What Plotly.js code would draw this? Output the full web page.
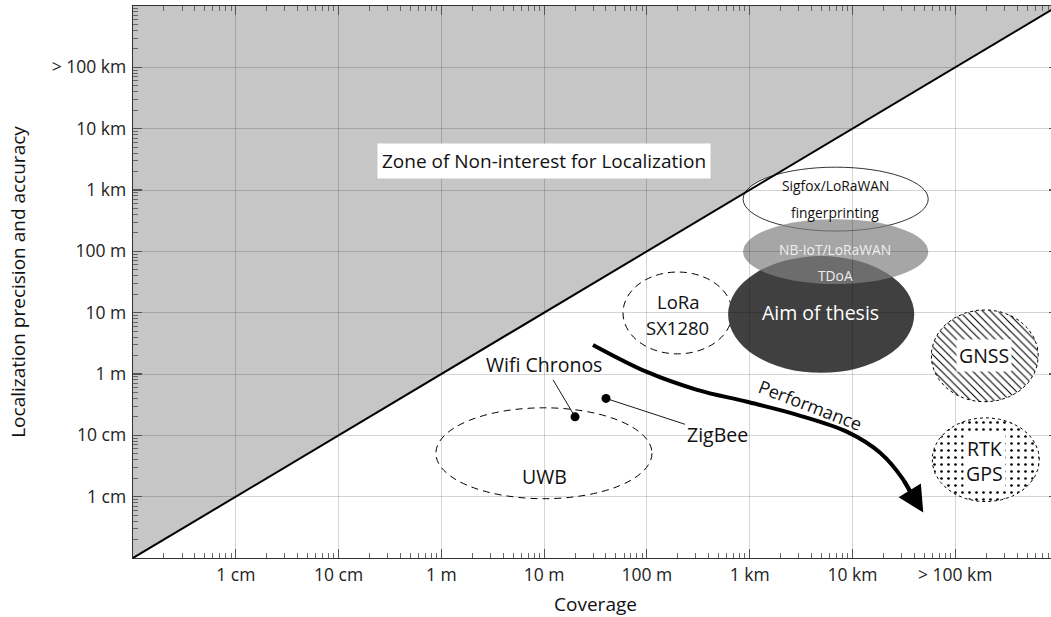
<!DOCTYPE html>
<html><head><meta charset="utf-8">
<script src="https://cdn.plot.ly/plotly-3.0.1.min.js"></script>
<style>html,body{margin:0;padding:0;overflow:hidden;background:#fff}</style>
</head><body><div id="chart" style="width:1060px;height:617px"></div>
<script>
// ---- axes (values in metres) ----
const tickVals = [0.01, 0.1, 1, 10, 100, 1000, 10000, 100000];
const tickText = ['1 cm', '10 cm', '1 m', '10 m', '100 m', '1 km', '10 km', '> 100 km'];
const axisMin = 0.001, axisMax = 1e6;

// ---- zone of non-interest (above the y = x line) ----
const diagX = [0.001, 1e6];
const diagY = [0.001, 1e6];
const zoneX = [0.001, 1e6, 0.001];
const zoneY = [0.001, 1e6, 1e6];

// ---- ellipses (bounding boxes, metres) ----
const ellNames = ['UWB', 'LoRa SX1280', 'Sigfox fingerprinting', 'Aim of thesis', 'NB-IoT TDoA', 'GNSS', 'RTK GPS'];
const ellX0 = [0.885, 58.6, 863, 617, 863, 58500, 59700];
const ellX1 = [112, 675, 54600, 39900, 54600, 643000, 658000];
const ellY0 = [0.00927, 2.13, 214, 1.045, 29.3, 0.352, 0.0083];
const ellY1 = [0.281, 46, 2355, 83.8, 335, 11.1, 0.193];

// ---- single technologies (points) ----
const ptNames = ['Wifi Chronos', 'ZigBee'];
const ptX = [20, 40];
const ptY = [0.2, 0.4];
const ptLabelX = [10, 482];
const ptLabelY = [1.41, 0.102];

// ---- performance arrow ----
const perfX = [29.9, 100, 308, 944, 2900, 8890, 18600, 31200, 38200];
const perfY = [2.98, 1.08, 0.552, 0.352, 0.216, 0.114, 0.052, 0.0189, 0.01];
const perfTipX = 48900, perfTipY = 0.0055;

// ---- text labels ----
const lblText = ['Zone of Non-interest for Localization', 'LoRa', 'SX1280', 'UWB',
  'Sigfox/LoRaWAN', 'fingerprinting', 'NB-IoT/LoRaWAN', 'TDoA', 'Aim of thesis',
  'Performance', 'GNSS', 'RTK<br>GPS'];
const lblX = [10, 200, 200, 10, 6800, 6800, 6800, 6800, 4850, 3900, 192000, 192000];
const lblY = [3000, 15, 5.8, 0.021, 1200, 435, 109, 41, 9.9, 0.315, 1.97, 0.0386];

const FONT = '"Open Sans", "Noto Sans", sans-serif';
const L = Math.log10;

function ellipsePts(i) {
  const cx = (L(ellX0[i]) + L(ellX1[i])) / 2, rx = (L(ellX1[i]) - L(ellX0[i])) / 2;
  const cy = (L(ellY0[i]) + L(ellY1[i])) / 2, ry = (L(ellY1[i]) - L(ellY0[i])) / 2;
  const xs = [], ys = [];
  for (let k = 0; k <= 144; k++) {
    const t = 2 * Math.PI * k / 144;
    xs.push(Math.pow(10, cx + rx * Math.cos(t)));
    ys.push(Math.pow(10, cy + ry * Math.sin(t)));
  }
  return {xs, ys};
}

const g = ellipsePts(5), r = ellipsePts(6);
const traces = [
  {x: diagX, y: diagY, mode: 'lines', line: {color: 'black', width: 2}, hoverinfo: 'skip'},
  {x: g.xs, y: g.ys, mode: 'lines', fill: 'toself', fillcolor: 'white',
   fillpattern: {shape: '\\', size: 5.5, solidity: 0.2, fgcolor: 'black', bgcolor: 'white'},
   line: {color: 'black', width: 1, dash: 'dot'}, name: ellNames[5]},
  {x: r.xs, y: r.ys, mode: 'lines', fill: 'toself', fillcolor: 'white',
   fillpattern: {shape: '.', size: 7, solidity: 0.12, fgcolor: 'black', bgcolor: 'white'},
   line: {color: 'black', width: 1, dash: 'dot'}, name: ellNames[6]},
  {x: perfX, y: perfY, mode: 'lines', line: {color: 'black', width: 4, shape: 'spline', smoothing: 1}},
  {x: ptX, y: ptY, mode: 'markers', marker: {color: 'black', size: 9}, text: ptNames}
];

const shapes = [];
shapes.push({type: 'path', xref: 'x', yref: 'y', layer: 'below',
  path: 'M' + zoneX.map((v, i) => v + ',' + zoneY[i]).join(' L') + ' Z',
  fillcolor: '#c6c6c6', line: {width: 0}});
const ellStyles = [
  {fillcolor: 'rgba(0,0,0,0)', line: {color: 'black', width: 1, dash: '7px,5px'}},
  {fillcolor: 'rgba(0,0,0,0)', line: {color: 'black', width: 1, dash: '7px,5px'}},
  {fillcolor: 'white', line: {color: 'black', width: 0.8}},
  {fillcolor: '#404040', line: {width: 0}},
  {fillcolor: '#808080', opacity: 0.7, line: {width: 0}}
];
for (let i = 0; i < 5; i++) {
  shapes.push(Object.assign({type: 'circle', xref: 'x', yref: 'y', layer: 'below',
    x0: ellX0[i], x1: ellX1[i], y0: ellY0[i], y1: ellY1[i]}, ellStyles[i]));
}

const lblStyle = [
  {size: 19, color: '#111', bgcolor: 'white', borderpad: 4},
  {size: 18.5, color: '#111'}, {size: 18.5, color: '#111'}, {size: 19.5, color: '#111'},
  {size: 13.8, color: '#111'}, {size: 13.8, color: '#111'},
  {size: 13.8, color: '#eeeeee'}, {size: 13.8, color: '#eeeeee'},
  {size: 19.5, color: 'white'},
  {size: 18, color: '#111', angle: 21},
  {size: 19.5, color: '#111', bgcolor: 'white', borderpad: 2},
  {size: 19.5, color: '#111', bgcolor: 'white', borderpad: 2}
];
const annotations = lblText.map((t, i) => ({
  x: L(lblX[i]), y: L(lblY[i]), xref: 'x', yref: 'y', text: t, showarrow: false,
  font: {family: FONT, size: lblStyle[i].size, color: lblStyle[i].color},
  bgcolor: lblStyle[i].bgcolor, borderpad: lblStyle[i].borderpad || 1,
  textangle: lblStyle[i].angle || 0
}));
ptNames.forEach((n, i) => annotations.push({
  x: L(ptX[i]), y: L(ptY[i]), xref: 'x', yref: 'y', axref: 'x', ayref: 'y',
  ax: L(ptLabelX[i]), ay: L(ptLabelY[i]), text: n, showarrow: true, arrowhead: 0,
  arrowwidth: 0.9, arrowcolor: 'black', standoff: 3,
  font: {family: FONT, size: 19.5, color: '#111'}
}));
annotations.push({
  x: L(perfTipX), y: L(perfTipY), xref: 'x', yref: 'y', axref: 'x', ayref: 'y',
  ax: L(perfX[perfX.length - 2]), ay: L(perfY[perfY.length - 2]), text: '',
  showarrow: true, arrowhead: 2, arrowsize: 1.3, arrowwidth: 4, arrowcolor: 'black', standoff: 0
});

const axisCommon = {
  type: 'log', range: [L(axisMin), L(axisMax)], tickmode: 'array', tickvals: tickVals, ticktext: tickText,
  ticks: 'inside', ticklen: 9, tickwidth: 1.2, tickcolor: '#555',
  showline: true, linecolor: '#333', linewidth: 1.3, mirror: 'ticks',
  showgrid: true, gridcolor: 'rgba(0,0,0,0.17)', gridwidth: 1, zeroline: false,
  tickfont: {family: FONT, size: 17.5, color: '#222'},
  minor: {dtick: 'D1', ticks: 'inside', ticklen: 5, tickwidth: 1, tickcolor: '#666', showgrid: false}
};

const layout = {
  width: 1060, height: 617,
  margin: {l: 133, r: 2, t: 6, b: 59},
  paper_bgcolor: 'white', plot_bgcolor: 'white',
  showlegend: false,
  xaxis: Object.assign({}, axisCommon, {ticklabelstandoff: 1,
    title: {text: 'Coverage', font: {family: FONT, size: 19, color: '#111'}, standoff: 12}}),
  yaxis: Object.assign({}, axisCommon, {ticklabelstandoff: 2,
    title: {text: 'Localization precision and accuracy', font: {family: FONT, size: 19, color: '#111'}, standoff: 21}}),
  shapes: shapes,
  annotations: annotations
};

Plotly.newPlot('chart', traces, layout, {displayModeBar: false, staticPlot: true});
</script>
</body></html>
